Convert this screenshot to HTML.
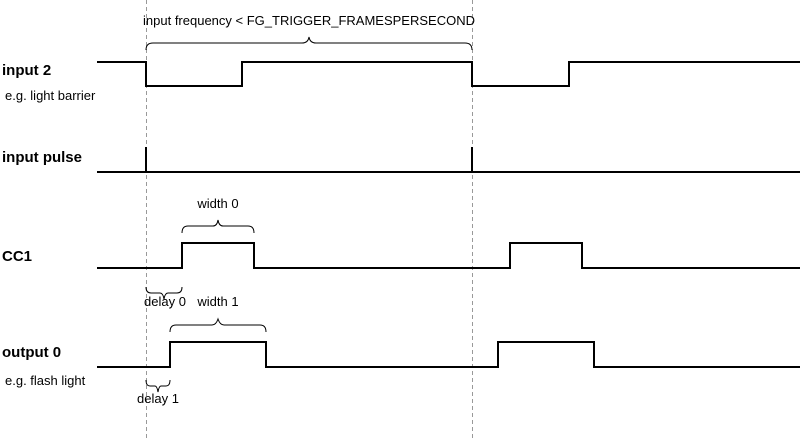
<!DOCTYPE html>
<html><head><meta charset="utf-8"><style>
html,body{margin:0;padding:0;background:#fff;}
svg{display:block;}
text{font-family:"Liberation Sans",Arial,sans-serif;fill:#000;}
.b{font-weight:bold;font-size:15px;}
.s{font-size:13px;}
.w{fill:none;stroke:#000;stroke-width:2;}
.br{fill:none;stroke:#000;stroke-width:1;}
.d{stroke:#999;stroke-width:1;stroke-dasharray:4,3;}
</style></head><body>
<svg width="800" height="439" viewBox="0 0 800 439">
<line class="d" x1="146.5" y1="0" x2="146.5" y2="439"/>
<line class="d" x1="472.5" y1="0" x2="472.5" y2="439"/>
<text class="b" x="2" y="75">input 2</text>
<text class="s" x="5" y="100">e.g. light barrier</text>
<text class="b" x="2" y="162">input pulse</text>
<text class="b" x="2" y="261">CC1</text>
<text class="b" x="2" y="357">output 0</text>
<text class="s" x="5" y="385">e.g. flash light</text>
<polyline class="w" points="97,62 146,62 146,86 242,86 242,62 472,62 472,86 569,86 569,62 800,62"/>
<polyline class="w" points="97,172 146,172 146,147 146,172 472,172 472,147 472,172 800,172"/>
<polyline class="w" points="97,268 182,268 182,243 254,243 254,268 510,268 510,243 582,243 582,268 800,268"/>
<polyline class="w" points="97,367 170,367 170,342 266,342 266,367 498,367 498,342 594,342 594,367 800,367"/>
<text class="s" x="309" y="25" text-anchor="middle">input frequency &lt; FG_TRIGGER_FRAMESPERSECOND</text>
<path class="br" d="M146,50 Q146,43 153,43 L302,43 Q308,43 309,37 Q310,43 316,43 L465,43 Q472,43 472,50"/>
<text class="s" x="218" y="208" text-anchor="middle">width 0</text>
<path class="br" d="M182,233 Q182,226 188,226 L213,226 Q217,226 218,220 Q219,226 223,226 L248,226 Q254,226 254,233"/>
<path class="br" d="M146,287 Q146,293 151,293 L160,293 Q163,293 164,299 Q165,293 168,293 L177,293 Q182,293 182,287"/>
<text class="s" x="165" y="306" text-anchor="middle">delay 0</text>
<text class="s" x="218" y="306" text-anchor="middle">width 1</text>
<path class="br" d="M170,332 Q170,325 176,325 L212,325 Q216,325 218,319 Q220,325 224,325 L260,325 Q266,325 266,332"/>
<path class="br" d="M146,380 Q146,386 150,386 L155,386 Q157,386 158,392 Q159,386 161,386 L166,386 Q170,386 170,380"/>
<text class="s" x="158" y="403" text-anchor="middle">delay 1</text>
</svg>
</body></html>
